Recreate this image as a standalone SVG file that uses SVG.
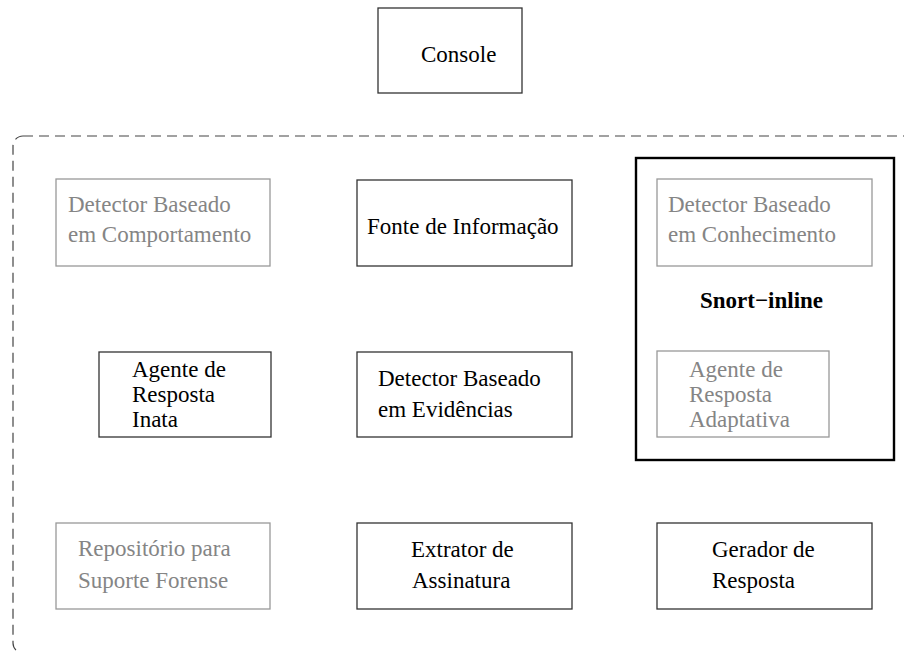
<svg xmlns="http://www.w3.org/2000/svg" width="904" height="651" viewBox="0 0 904 651">
<style>
text{font-family:"Liberation Serif","Times New Roman",serif;font-size:23px;fill:#000}
.g text{fill:#858585}
.box{fill:#fff;stroke:#333;stroke-width:1.3}
.g .box{stroke:#999;stroke-width:1.3}
.frame{fill:none;stroke:#444;stroke-width:1.2;stroke-dasharray:10 6}
</style>
<rect width="904" height="651" fill="#fff"/>
<g id="frame"><rect class="frame" x="13" y="136" width="1000" height="517" rx="10"/></g>
<g id="console"><rect class="box" x="378" y="8" width="144" height="85"/><text x="421" y="62">Console</text></g>
<g id="snort"><rect x="636" y="158" width="258" height="302" fill="none" stroke="#000" stroke-width="2.4"/><text x="700" y="308" font-weight="bold">Snort−inline</text></g>
<g id="det-comport" class="g"><rect class="box" x="56" y="179" width="214" height="87"/><text x="68" y="212">Detector Baseado</text><text x="68" y="242">em Comportamento</text></g>
<g id="fonte"><rect class="box" x="357" y="180" width="215" height="86"/><text x="367" y="234">Fonte de Informação</text></g>
<g id="det-conhec" class="g"><rect class="box" x="657" y="179" width="215" height="87"/><text x="668" y="212">Detector Baseado</text><text x="668" y="242">em Conhecimento</text></g>
<g id="agente-inata"><rect class="box" x="99" y="352" width="172" height="85"/><text x="132" y="377">Agente de</text><text x="132" y="402">Resposta</text><text x="132" y="427">Inata</text></g>
<g id="det-evid"><rect class="box" x="357" y="352" width="215" height="85"/><text x="378" y="386">Detector Baseado</text><text x="378" y="417">em Evidências</text></g>
<g id="agente-adapt" class="g"><rect class="box" x="657" y="351" width="172" height="86"/><text x="689" y="377">Agente de</text><text x="689" y="402">Resposta</text><text x="689" y="427">Adaptativa</text></g>
<g id="repositorio" class="g"><rect class="box" x="56" y="523" width="214" height="86"/><text x="78" y="556">Repositório para</text><text x="78" y="588">Suporte Forense</text></g>
<g id="extrator"><rect class="box" x="357" y="523" width="215" height="86"/><text x="411" y="557">Extrator de</text><text x="412" y="588">Assinatura</text></g>
<g id="gerador"><rect class="box" x="657" y="523" width="215" height="86"/><text x="712" y="557">Gerador de</text><text x="712" y="588">Resposta</text></g>
<g id="connectors"></g>
</svg>
